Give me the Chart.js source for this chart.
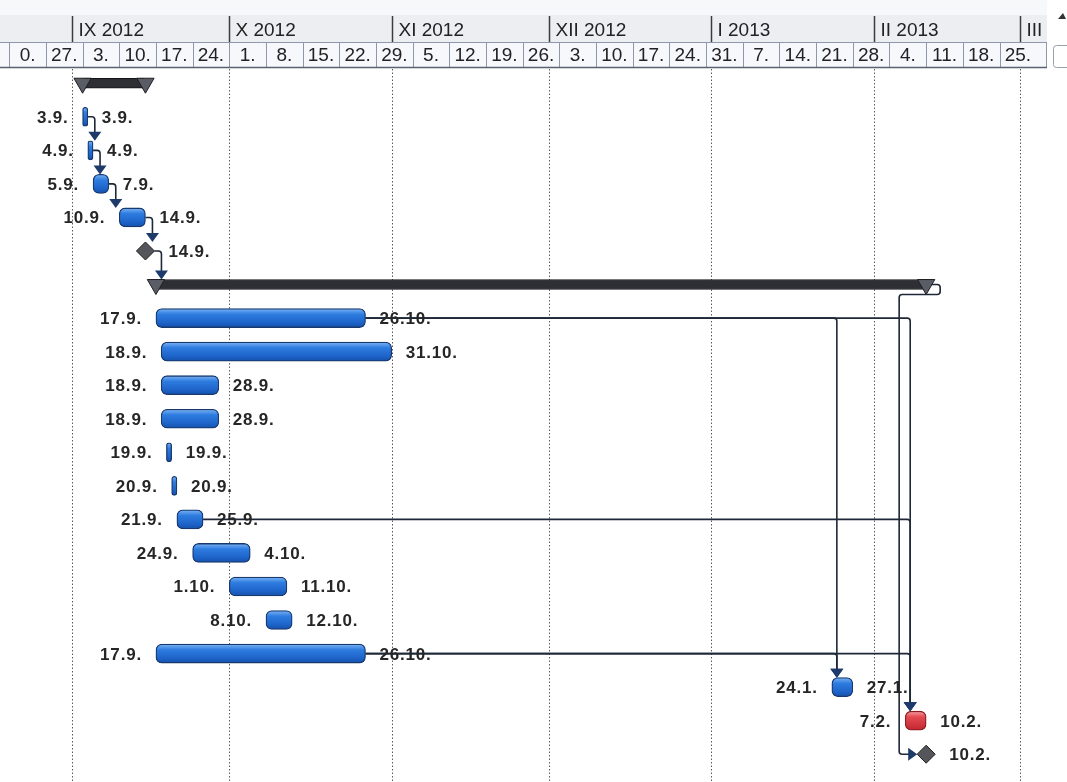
<!DOCTYPE html>
<html lang="cs">
<head>
<meta charset="utf-8">
<title>Harmonogram projektu</title>
<script src="https://cdn.jsdelivr.net/npm/chart.js@4.4.1/dist/chart.umd.min.js"></script>
<style>
html,body{margin:0;padding:0;background:#ffffff;overflow:hidden}
#wrap{position:relative;width:1067px;height:782px}
canvas{display:block}
</style>
</head>
<body>
<div id="wrap"><canvas id="gantt" width="1067" height="782"></canvas></div>
<script>
// ---------------- data ----------------
const rowIds = ['T0','T1','T2','T3','T4','T5','T6','T7','T8','T9','T10',
                'T11','T12','T13','T14','T15','T16','T17','T18','T19','T20'];
const taskKind = ['summary','task','task','task','task','milestone','summary',
                  'task','task','task','task','task','task','task','task','task',
                  'task','task','task','critical','milestone'];
const taskStart = ['2012-09-03','2012-09-03','2012-09-04','2012-09-05','2012-09-10','2012-09-14',
                   '2012-09-17','2012-09-17','2012-09-18','2012-09-18','2012-09-18','2012-09-19',
                   '2012-09-20','2012-09-21','2012-09-24','2012-10-01','2012-10-08','2012-09-17',
                   '2013-01-24','2013-02-07','2013-02-10'];
const taskEnd = ['2012-09-14','2012-09-03','2012-09-04','2012-09-07','2012-09-14','2012-09-14',
                 '2013-02-10','2012-10-26','2012-10-31','2012-09-28','2012-09-28','2012-09-19',
                 '2012-09-20','2012-09-25','2012-10-04','2012-10-11','2012-10-12','2012-10-26',
                 '2013-01-27','2013-02-10','2013-02-10'];
// predecessor -> successor (row indexes)
const linkFrom = [1, 2, 3, 4, 5, 7, 7, 13, 17, 17, 6];
const linkTo   = [2, 3, 4, 5, 6, 18, 19, 19, 18, 19, 20];
const linkRoute = ['down','down','down','down','down','down','down','down','down','down','around'];

const monthStarts = ['2012-09-01','2012-10-01','2012-11-01','2012-12-01','2013-01-01','2013-02-01','2013-03-01'];
const monthLabels = ['IX 2012','X 2012','XI 2012','XII 2012','I 2013','II 2013','III'];
const weekStarts = ['2012-08-20','2012-08-27','2012-09-03','2012-09-10','2012-09-17','2012-09-24',
                    '2012-10-01','2012-10-08','2012-10-15','2012-10-22','2012-10-29','2012-11-05',
                    '2012-11-12','2012-11-19','2012-11-26','2012-12-03','2012-12-10','2012-12-17',
                    '2012-12-24','2012-12-31','2013-01-07','2013-01-14','2013-01-21','2013-01-28',
                    '2013-02-04','2013-02-11','2013-02-18','2013-02-25'];
const weekLabels = ['0.','27.','3.','10.','17.','24.','1.','8.','15.','22.','29.','5.','12.','19.',
                    '26.','3.','10.','17.','24.','31.','7.','14.','21.','28.','4.','11.','18.','25.'];

// ---------------- helpers ----------------
const ORIGIN = Date.UTC(2012, 8, 1);
function dayOf(s){ const p = s.split('-').map(Number); return (Date.UTC(p[0], p[1]-1, p[2]) - ORIGIN) / 86400000; }
function dmy(s){ const p = s.split('-').map(Number); return p[2] + '.' + p[1] + '.'; }

const X_MIN = -11.66, X_MAX = 187.78;
const HEADER_END_X = 1047;
const BAR_T = 19, SUM_T = 10, DIA_R = 9, TRI_R = 10;
const LABEL_FONT = 'bold 17px "Liberation Sans", Arial, sans-serif';
const HEAD_FONT = '19px "Liberation Sans", Arial, sans-serif';

function rowsOf(kind){ const out = []; taskKind.forEach((k,i) => { if (k === kind) out.push(i); }); return out; }
function barItem(i){ return {x: [dayOf(taskStart[i]), dayOf(taskEnd[i]) + 1], y: rowIds[i]}; }

function gradientFill(stops, fallback){
  return (c) => {
    const chart = c.chart, ys = chart.scales && chart.scales.y;
    if (!ys || !chart.chartArea || !c.raw) return fallback;
    const yc = ys.getPixelForValue(rowIds.indexOf(c.raw.y));
    const g = chart.ctx.createLinearGradient(0, yc - BAR_T/2, 0, yc + BAR_T/2);
    stops.forEach(s => g.addColorStop(s[0], s[1]));
    return g;
  };
}

const summaryEnds = [];
rowsOf('summary').forEach(i => {
  summaryEnds.push({x: dayOf(taskStart[i]), y: rowIds[i]});
  summaryEnds.push({x: dayOf(taskEnd[i]) + 1, y: rowIds[i]});
});

// ---------------- drawing plugin ----------------
function geom(chart){
  const xs = chart.scales.x, ys = chart.scales.y;
  const rowY = i => ys.getPixelForValue(i);
  const sPx = i => taskKind[i] === 'milestone' ? xs.getPixelForValue(dayOf(taskEnd[i]) + 1) : xs.getPixelForValue(dayOf(taskStart[i]));
  const ePx = i => xs.getPixelForValue(dayOf(taskEnd[i]) + 1);
  const left = i => taskKind[i] === 'milestone' ? ePx(i) - DIA_R : sPx(i);
  const right = i => taskKind[i] === 'milestone' ? ePx(i) + DIA_R : ePx(i);
  const top = i => {
    const k = taskKind[i];
    if (k === 'summary') return rowY(i) - SUM_T/2;
    if (k === 'milestone') return rowY(i) - DIA_R;
    return rowY(i) - BAR_T/2;
  };
  return {xs, ys, rowY, sPx, ePx, left, right, top};
}

function poly(ctx, pts, r){
  ctx.beginPath();
  ctx.moveTo(pts[0][0], pts[0][1]);
  for (let k = 1; k < pts.length - 1; k++) ctx.arcTo(pts[k][0], pts[k][1], pts[k+1][0], pts[k+1][1], r);
  ctx.lineTo(pts[pts.length-1][0], pts[pts.length-1][1]);
  ctx.stroke();
}

const ganttPlugin = {
  id: 'gantt',
  beforeDatasetsDraw(chart){
    const ctx = chart.ctx, g = geom(chart), xs = g.xs;
    const H = chart.height;
    ctx.save();
    // ---- header: month row ----
    ctx.fillStyle = '#f7f8f9'; ctx.fillRect(0, 0, HEADER_END_X, 15);
    ctx.fillStyle = '#eceef1'; ctx.fillRect(0, 15, HEADER_END_X, 27);
    ctx.font = HEAD_FONT; ctx.fillStyle = '#222'; ctx.textAlign = 'left'; ctx.textBaseline = 'alphabetic';
    monthStarts.forEach((m, k) => {
      const x = Math.round(xs.getPixelForValue(dayOf(m))) + 0.5;
      if (x < 0 || x > HEADER_END_X + 10) return;
      ctx.strokeStyle = '#3c3c3c'; ctx.lineWidth = 1.5;
      ctx.beginPath(); ctx.moveTo(x, 16); ctx.lineTo(x, 42); ctx.stroke();
      ctx.fillText(monthLabels[k], x + 6, 36);
    });
    // ---- header: week row ----
    ctx.fillStyle = '#f6f8fc'; ctx.fillRect(0, 42, HEADER_END_X, 26);
    ctx.strokeStyle = '#8e98ab'; ctx.lineWidth = 1;
    ctx.beginPath(); ctx.moveTo(0, 42.5); ctx.lineTo(HEADER_END_X, 42.5); ctx.stroke();
    ctx.textAlign = 'center';
    weekStarts.forEach((w, k) => {
      const x0 = xs.getPixelForValue(dayOf(w));
      const x1 = Math.min(xs.getPixelForValue(dayOf(w) + 7), HEADER_END_X);
      const xl = Math.round(x0) + 0.5;
      if (x0 > 0) { ctx.beginPath(); ctx.moveTo(xl, 42); ctx.lineTo(xl, 68); ctx.stroke(); }
      const cx = (Math.max(0, x0) + x1) / 2;
      ctx.fillStyle = '#222';
      ctx.fillText(weekLabels[k], cx, 61);
    });
    ctx.beginPath(); ctx.moveTo(HEADER_END_X - 0.5, 42); ctx.lineTo(HEADER_END_X - 0.5, 68); ctx.stroke();
    ctx.strokeStyle = '#5a6170'; ctx.lineWidth = 1.6;
    ctx.beginPath(); ctx.moveTo(0, 67.5); ctx.lineTo(HEADER_END_X, 67.5); ctx.stroke();
    // small scroll widget at the right edge
    ctx.strokeStyle = '#9aa0aa'; ctx.lineWidth = 1;
    ctx.beginPath(); ctx.roundRect(1053.5, 45.5, 18, 22, 3); ctx.stroke();
    ctx.fillStyle = '#333';
    ctx.beginPath(); ctx.moveTo(1058, 19); ctx.lineTo(1063, 13); ctx.lineTo(1066, 19); ctx.closePath(); ctx.fill();

    // ---- dotted month gridlines ----
    ctx.strokeStyle = '#5c5c5c'; ctx.lineWidth = 1; ctx.setLineDash([1.5, 2]);
    monthStarts.forEach(m => {
      const x = Math.round(xs.getPixelForValue(dayOf(m))) + 0.5;
      ctx.beginPath(); ctx.moveTo(x, 69); ctx.lineTo(x, H); ctx.stroke();
    });
    ctx.setLineDash([]);

    // ---- dependency connectors ----
    ctx.strokeStyle = '#1f2838'; ctx.lineWidth = 1.6; ctx.lineJoin = 'round';
    ctx.fillStyle = '#1d3a6b';
    linkFrom.forEach((a, n) => {
      const b = linkTo[n];
      const ya = g.rowY(a), yb = g.rowY(b);
      const xe = g.right(a);
      if (linkRoute[n] === 'down') {
        const xa = (g.sPx(b) - xe > 20) ? g.sPx(b) + 5 : xe + 7;
        const yTip = g.top(b);
        poly(ctx, [[xe, ya], [xa, ya], [xa, yTip - 8]], 3);
        ctx.beginPath(); ctx.moveTo(xa - 6.5, yTip - 9); ctx.lineTo(xa + 6.5, yTip - 9); ctx.lineTo(xa, yTip); ctx.closePath(); ctx.fill();
      } else {
        const xsb = g.left(b);
        const xr = xe + 14, yd = ya + 10, xl = xsb - 18;
        poly(ctx, [[xe, ya], [xr, ya], [xr, yd], [xl, yd], [xl, yb], [xsb - 8, yb]], 3);
        ctx.beginPath(); ctx.moveTo(xsb - 9, yb - 6.5); ctx.lineTo(xsb - 9, yb + 6.5); ctx.lineTo(xsb, yb); ctx.closePath(); ctx.fill();
      }
    });
    ctx.restore();
  },
  afterDatasetsDraw(chart){
    const ctx = chart.ctx, g = geom(chart);
    ctx.save();
    ctx.font = LABEL_FONT; ctx.fillStyle = '#262626'; ctx.textBaseline = 'alphabetic';
    if ('letterSpacing' in ctx) ctx.letterSpacing = '0.8px';
    rowIds.forEach((id, i) => {
      const k = taskKind[i];
      if (k === 'summary') return;
      const y = g.rowY(i) + 6;
      if (k !== 'milestone') { ctx.textAlign = 'right'; ctx.fillText(dmy(taskStart[i]), g.left(i) - 14, y); }
      ctx.textAlign = 'left'; ctx.fillText(dmy(taskEnd[i]), g.right(i) + 14, y);
    });
    ctx.restore();
  }
};

// ---------------- chart ----------------
new Chart(document.getElementById('gantt'), {
  type: 'bar',
  data: {
    labels: rowIds,
    datasets: [
      { type: 'scatter', label: 'Konce souhrnných úkolů', data: summaryEnds,
        pointStyle: 'triangle', rotation: 180, radius: TRI_R,
        backgroundColor: '#5a5d65', borderColor: '#1e1f22', borderWidth: 1, order: 0 },
      { type: 'scatter', label: 'Milníky', data: rowsOf('milestone').map(i => ({x: dayOf(taskEnd[i]) + 1, y: rowIds[i]})),
        pointStyle: 'rectRot', radius: DIA_R,
        backgroundColor: '#54565c', borderColor: '#1c1c1f', borderWidth: 1, order: 0 },
      { type: 'bar', label: 'Úkoly', data: rowsOf('task').map(barItem),
        backgroundColor: gradientFill([[0,'#7cb4f4'],[0.3,'#2e7ce0'],[0.75,'#1d63c8'],[1,'#1550aa']], '#2a74da'),
        borderColor: '#17396e', borderWidth: 1.3, borderRadius: 6, borderSkipped: false,
        barThickness: BAR_T, grouped: false, order: 1 },
      { type: 'bar', label: 'Kritické úkoly', data: rowsOf('critical').map(barItem),
        backgroundColor: gradientFill([[0,'#f6a0a4'],[0.3,'#e44a52'],[1,'#c3262f']], '#e0434b'),
        borderColor: '#8a1d22', borderWidth: 1.3, borderRadius: 6, borderSkipped: false,
        barThickness: BAR_T, grouped: false, order: 1 },
      { type: 'bar', label: 'Souhrnné úkoly', data: rowsOf('summary').map(barItem),
        backgroundColor: '#2d2f35', borderColor: '#141518', borderWidth: 1, borderRadius: 3, borderSkipped: false,
        barThickness: SUM_T, grouped: false, order: 2 }
    ]
  },
  options: {
    indexAxis: 'y',
    responsive: false,
    animation: false,
    events: [],
    layout: { padding: { top: 66.45, bottom: 7.85, left: 0, right: 0 } },
    scales: {
      x: { type: 'linear', min: X_MIN, max: X_MAX, display: false },
      y: { type: 'category', labels: rowIds, display: false, offset: true }
    },
    plugins: { legend: { display: false }, tooltip: { enabled: false } }
  },
  plugins: [ganttPlugin]
});
</script>
</body>
</html>
